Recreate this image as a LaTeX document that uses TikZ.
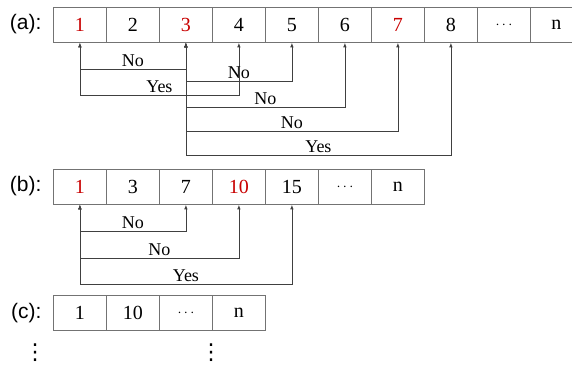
\documentclass[tikz,border=0pt]{standalone}
\usepackage{fontspec}
\setmainfont{Liberation Serif}
\newfontfamily\tagfont{Liberation Sans}
\newfontfamily\symfont{DejaVu Sans}
\usepackage{tikz}
\usepackage{xcolor}
\usetikzlibrary{arrows.meta}
\definecolor{cellred}{HTML}{C80000}

\tikzset{
  cell/.style={draw=black!55, line width=0.8pt, minimum width=53pt, minimum height=35pt, inner sep=0pt, anchor=north west, font=\fontsize{20}{22}\selectfont},
  hot/.style={text=cellred},
  more/.style={font=\fontsize{15}{17}\selectfont},
  link/.style={draw=black!75, line width=0.8pt, {Latex[length=4.5pt,width=3.5pt]}-{Latex[length=4.5pt,width=3.5pt]}},
  lbl/.style={font=\fontsize{18}{20}\selectfont, above, inner sep=3pt, text depth=0pt},
  tag/.style={font=\tagfont\fontsize{21}{23}\selectfont, anchor=east},
  down/.style={font=\symfont\fontsize{22}{24}\selectfont, inner sep=0pt}
}

\begin{document}
\begin{tikzpicture}[x=1pt, y=-1pt]
\useasboundingbox (0,0) rectangle (572,365);
% row (a)
\node[tag] (ta) at (45,24.5) {(a):};
\node[cell, hot] (a1) at (53,7) {1};
\node[cell] (a2) at (106,7) {2};
\node[cell, hot] (a3) at (159,7) {3};
\node[cell] (a4) at (212,7) {4};
\node[cell] (a5) at (265,7) {5};
\node[cell] (a6) at (318,7) {6};
\node[cell, hot] (a7) at (371,7) {7};
\node[cell] (a8) at (424,7) {8};
\node[cell, more] (a9) at (477,7) {$\cdots$};
\node[cell, minimum width=52pt] (a10) at (530,7) {n};
\draw[link] (a1.south) -- ++(0,27) -| node[lbl, pos=0.25] {No} (a3.south);
\draw[link] (a1.south) -- ++(0,53) -| node[lbl, pos=0.25] {Yes} (a4.south);
\draw[link] (a3.south) -- ++(0,39) -| node[lbl, pos=0.25] {No} (a5.south);
\draw[link] (a3.south) -- ++(0,65) -| node[lbl, pos=0.25] {No} (a6.south);
\draw[link] (a3.south) -- ++(0,89) -| node[lbl, pos=0.25] {No} (a7.south);
\draw[link] (a3.south) -- ++(0,113) -| node[lbl, pos=0.25] {Yes} (a8.south);
% row (b)
\node[tag] (tb) at (45,186) {(b):};
\node[cell, hot] (b1) at (53,169) {1};
\node[cell] (b2) at (106,169) {3};
\node[cell] (b3) at (159,169) {7};
\node[cell, hot] (b4) at (212,169) {10};
\node[cell] (b5) at (265,169) {15};
\node[cell, more] (b6) at (318,169) {$\cdots$};
\node[cell] (b7) at (371,169) {n};
\draw[link] (b1.south) -- ++(0,27) -| node[lbl, pos=0.25] {No} (b3.south);
\draw[link] (b1.south) -- ++(0,54) -| node[lbl, pos=0.25] {No} (b4.south);
\draw[link] (b1.south) -- ++(0,80) -| node[lbl, pos=0.25] {Yes} (b5.south);
% row (c)
\node[tag] (tc) at (45,313) {(c):};
\node[cell] (c1) at (53,295) {1};
\node[cell] (c2) at (106,295) {10};
\node[cell, more] (c3) at (159,295) {$\cdots$};
\node[cell] (c4) at (212,295) {n};
\node[down] (dl) at (35,353) {⋮};
\node[down] (dr) at (211,353) {⋮};
\end{tikzpicture}
\end{document}
